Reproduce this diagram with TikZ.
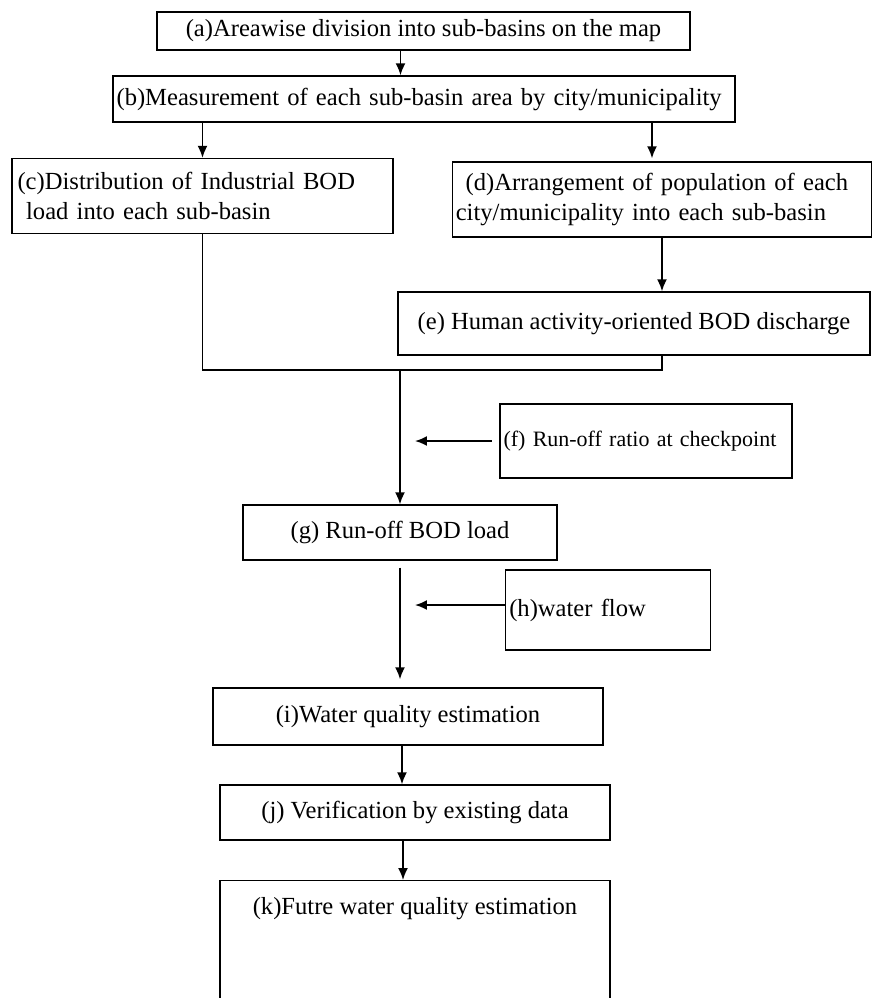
\documentclass[tikz,border=0pt]{standalone}
\usepackage{fontspec}
\setmainfont{Liberation Serif}
\usetikzlibrary{arrows.meta, positioning}

\begin{document}
\begin{tikzpicture}[x=0.02cm, y=-0.02cm, font=\fontsize{14}{17}\selectfont,
        b/.style={rectangle, draw, line width=0.8pt, inner sep=2pt, minimum height=1.1cm},
        arr/.style={-{Latex[length=2.4mm, width=2mm]}, line width=1pt}]
    \useasboundingbox (0,0) rectangle (873,998);
    \node[b, minimum width=10.66cm, minimum height=0.76cm] (a) at (423.5,31) {(a)Areawise division into sub-basins on the map};
    \node[b, minimum width=12.44cm, minimum height=0.92cm, text width=12.3cm, align=left] (b) at (424,99) {(b)Measurement of each sub-basin area by city/municipality};
    \node[b, minimum width=7.62cm, minimum height=1.5cm, text width=7.4cm, align=left] (c) at (202.5,196) {(c)Distribution of Industrial BOD\\\hspace*{0.35em}load into each sub-basin};
    \node[b, minimum width=8.32cm, minimum height=1.5cm, text width=8.25cm, align=left] (d) at (662,199.5) {\hspace*{0.4em}(d)Arrangement of population of each\\city/municipality into each sub-basin};
    \node[b, minimum width=9.44cm, minimum height=1.26cm] (e) at (634,323.5) {(e) Human activity-oriented BOD discharge};
    \node[b, minimum width=5.76cm, minimum height=1.48cm, text width=5.7cm, align=left, font=\fontsize{12.5}{15}\selectfont] (f) at (646,441) {(f) Run-off ratio at checkpoint};
    \node[b, minimum width=6.28cm] (g) at (400,532.5) {(g) Run-off BOD load};
    \node[b, minimum width=4cm, minimum height=1.6cm, text width=3.95cm, align=left] (h) at (608,610) {(h)water flow};
    \node[b, minimum width=7.8cm, minimum height=1.14cm] (i) at (408,716.5) {(i)Water quality estimation};
    \node[b, minimum width=7.8cm] (j) at (415,812.5) {(j) Verification by existing data};
    \node[b, anchor=north, minimum width=7.8cm, inner ysep=0.34cm, text depth=1.6cm] (k) at (415,880) {(k)Futre water quality estimation};
    \coordinate (mrg) at (400,370);
    \draw[arr] ([xshift=-0.46cm]a.south) -- ([xshift=-0.46cm]a.south |- b.north);
    \draw[arr] (b.south -| c.north) -- (c.north);
    \draw[arr] ([xshift=-0.2cm]b.south -| d.north) -- ([xshift=-0.2cm,yshift=0.06cm]d.north);
    \draw[arr] (d.south) -- (d.south |- e.north);
    \draw[line width=1pt] (c.south) |- (mrg);
    \draw[line width=1pt] (e.south -| d.south) |- (mrg);
    \draw[arr] (mrg) -- (g.north);
    \draw[arr] ([xshift=-0.15cm]f.west) -- ([xshift=0.3cm]f.west -| mrg);
    \draw[arr] ([yshift=-0.14cm]g.south) -- ([yshift=0.16cm]i.north -| g.south);
    \draw[arr] ([yshift=0.1cm]h.west) -- ([xshift=0.3cm,yshift=0.1cm]h.west -| g.south);
    \draw[arr] ([xshift=-0.12cm]i.south) -- ([xshift=-0.12cm]i.south |- j.north);
    \draw[arr] ([xshift=-0.24cm]j.south) -- ([xshift=-0.24cm]j.south |- k.north);
\end{tikzpicture}
\end{document}
